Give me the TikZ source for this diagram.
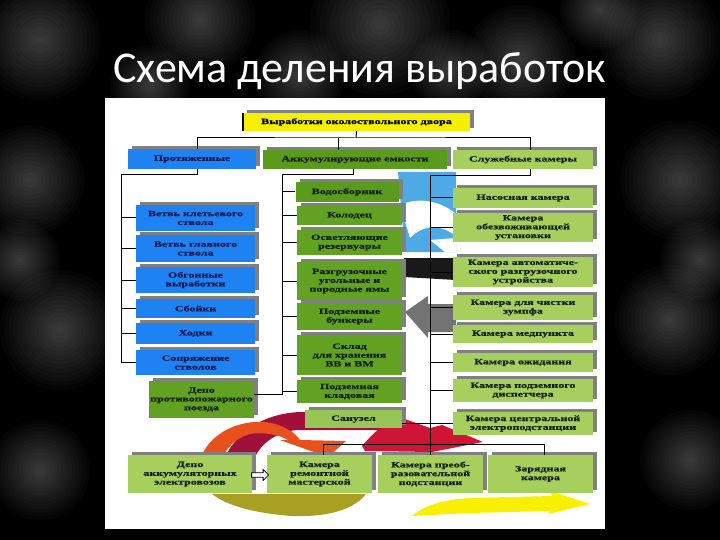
\documentclass[tikz,border=0pt]{standalone}
\usepackage{fontspec}
\setmainfont{Liberation Serif}
\newfontfamily\titlefont{Carlito}
\newfontfamily\boxfont[FakeStretch=1.5,FakeBold=1]{Liberation Serif}
\usetikzlibrary{shadows,shapes.arrows}
\definecolor{bxblue}{HTML}{1E82F2}
\definecolor{bxgreen}{HTML}{62A222}
\definecolor{bxdgreen}{HTML}{5A9A1C}
\definecolor{bxlgreen}{HTML}{A6CF5E}
\definecolor{bxsan}{HTML}{98C656}
\definecolor{bxyellow}{HTML}{F4F000}
\definecolor{shgray}{HTML}{808080}
\definecolor{txtblue}{HTML}{0A1A50}
\definecolor{txtgreen}{HTML}{142014}
\definecolor{arblue}{HTML}{4EAAE4}
\definecolor{ardred}{HTML}{A0103A}
\definecolor{arorange}{HTML}{E8501E}
\definecolor{arcrimson}{HTML}{D01434}
\definecolor{arolive}{HTML}{A8A020}
\definecolor{aryellow}{HTML}{F8F000}
\begin{document}
\begin{tikzpicture}[x=1pt,y=-1pt,
  box/.style={rectangle, inner sep=1pt, align=center,
    font=\boxfont\bfseries\fontsize{8}{8.8}\selectfont,
    general shadow={fill=shgray, shadow xshift=4pt, shadow yshift=3pt}},
  bbox/.style={box, fill=bxblue, text=txtblue},
  gbox/.style={box, fill=bxgreen, text=txtgreen},
  lbox/.style={box, fill=bxlgreen, text=txtgreen},
  conn/.style={draw=black, line width=1pt}]
\useasboundingbox (0,0) rectangle (720,540);
% background
\fill[black] (0,0) rectangle (720,540);
\foreach \x/\y/\r in {40/40/60,200/20/55,380/25/70,520/60/55,660/40/60,30/180/55,60/330/60,40/470/50,680/180/60,670/320/55,690/460/50,600/10/40,300/75/45,150/85/40,450/70/40,20/260/40,700/260/40}{
  \foreach \k in {1,...,14}{\fill[white,opacity=0.021] (\x,\y) circle ({\r*\k/14});}
}
% title
\node[anchor=base west, inner sep=0pt, text=white, font=\titlefont\fontsize{44}{50}\selectfont] (title) at (113,83) {Схема деления выработок};
% panel
\fill[white] (105,98) rectangle (605,529);
% decorative arrows
\fill[arblue] (398,172) -- (456,172) -- (456,252) -- (405,252) -- cycle;
\fill[white] (400,205) .. controls (420,196) and (442,202) .. (456,214) -- (456,236) .. controls (440,224) and (424,224) .. (410,238) -- cycle;
\fill[white] (430,240) -- (456,238) -- (456,252) -- (445,252) -- cycle;
\fill[black!90] (404,258) -- (456,258) -- (456,280) -- (404,277) -- cycle;
\fill[black!55] (456,304) -- (428,304) -- (428,296) -- (405,312) -- (428,338) -- (428,332) -- (456,332) -- cycle;
\fill[ardred] (226,455) .. controls (242,425) and (272,413) .. (300,412) -- (405,412) -- (405,430) -- (300,430) .. controls (282,430) and (264,440) .. (256,455) -- cycle;
\fill[arorange] (202,455) .. controls (212,432) and (240,420) .. (265,422) .. controls (282,424) and (295,432) .. (300,440) -- (346,441) -- (328,457) -- (280,440) -- (288,440) .. controls (278,434) and (262,432) .. (250,434) .. controls (238,437) and (228,446) .. (224,455) -- cycle;
\fill[arcrimson] (362,446) .. controls (374,432) and (386,421) .. (402,418) -- (430,428) -- (442,425) -- (483,442) -- (432,452) -- (365,451) -- cycle;
\fill[arolive] (212,494) -- (366,494) .. controls (352,512) and (322,517) .. (292,516) .. controls (252,513) and (226,505) .. (212,494) -- cycle;
\fill[aryellow] (412,516) .. controls (424,506) and (440,500) .. (470,498) -- (552,496) -- (550,491) -- (590,504) -- (548,514) -- (550,511) -- (470,513) -- cycle;
% boxes
\node[box, fill=bxyellow, text=black, minimum width=227pt, minimum height=18pt] (top) at (356.5,122) {Выработки околоствольного двора};
\draw[line width=1.5pt] (top.north west) -- (top.south west);
\node[bbox, minimum width=128pt, minimum height=20pt] (p) at (192,159) {Протяженные};
\node[box, fill=bxdgreen, text=txtgreen, minimum width=184pt, minimum height=19pt] (a) at (355,159.5) {Аккумулирующие емкости};
\node[lbox, minimum width=140pt, minimum height=19pt] (s) at (523,159.5) {Служебные камеры};
% left column
\node[bbox, minimum width=119pt, minimum height=26pt] (l1) at (195.5,218) {Ветвь клетьевого\\ствола};
\node[bbox, minimum width=119pt, minimum height=27pt] (l2) at (195.5,248.5) {Ветвь главного\\ствола};
\node[bbox, minimum width=119pt, minimum height=26pt] (l3) at (195.5,280) {Обгонные\\выработки};
\node[bbox, minimum width=119pt, minimum height=19pt] (l4) at (195.5,308.5) {Сбойки};
\node[bbox, minimum width=119pt, minimum height=21pt] (l5) at (195.5,333.5) {Ходки};
\node[bbox, minimum width=119pt, minimum height=25pt] (l6) at (195.5,362.5) {Сопряжение\\стволов};
\node[gbox, minimum width=103pt, minimum height=37pt] (l7) at (201.5,399.5) {Депо\\противопожарного\\поезда};
% middle column
\node[box, fill=bxdgreen, text=txtgreen, minimum width=103pt, minimum height=20pt] (m1) at (347,192) {Водосборник};
\node[gbox, minimum width=105pt, minimum height=19pt] (m2) at (349.5,215.5) {Колодец};
\node[gbox, minimum width=105pt, minimum height=25pt] (m3) at (349.5,242.5) {Осветляющие\\резервуары};
\node[gbox, minimum width=105pt, minimum height=38pt] (m4) at (349.5,281) {Разгрузочные\\угольные и\\породные ямы};
\node[gbox, minimum width=105pt, minimum height=27pt] (m5) at (349.5,316.5) {Подземные\\бункеры};
\node[gbox, minimum width=105pt, minimum height=40pt] (m6) at (349.5,355) {Склад\\для хранения\\ВВ и ВМ};
\node[gbox, minimum width=105pt, minimum height=23pt] (m7) at (349.5,391.5) {Подземная\\кладовая};
\node[box, fill=bxsan, text=txtgreen, minimum width=97pt, minimum height=18pt] (m8) at (353.5,419) {Санузел};
% right column
\node[lbox, minimum width=140pt, minimum height=20pt] (r1) at (523,198) {Насосная камера};
\node[lbox, minimum width=140pt, minimum height=29pt] (r2) at (523,227.5) {Камера\\обезвоживающей\\установки};
\node[lbox, minimum width=140pt, minimum height=30pt] (r3) at (523,272) {Камера автоматиче-\\ского разгрузочного\\устройства};
\node[lbox, minimum width=140pt, minimum height=25pt] (r4) at (523,307.5) {Камера для чистки\\зумпфа};
\node[lbox, minimum width=140pt, minimum height=18pt] (r5) at (523,334) {Камера медпункта};
\node[lbox, minimum width=140pt, minimum height=19pt] (r6) at (523,362.5) {Камера ожидания};
\node[lbox, minimum width=140pt, minimum height=23pt] (r7) at (523,390.5) {Камера подземного\\диспетчера};
\node[lbox, minimum width=140pt, minimum height=23pt] (r8) at (523,423.5) {Камера центральной\\электроподстанции};
% bottom row
\node[lbox, minimum width=124pt, minimum height=38pt] (b1) at (190,474) {Депо\\аккумуляторных\\электровозов};
\node[lbox, minimum width=105pt, minimum height=38pt] (b2) at (319.5,474) {Камера\\ремонтной\\мастерской};
\node[lbox, minimum width=105pt, minimum height=38pt] (b3) at (430.5,474) {Камера преоб-\\разовательной\\подстанции};
\node[lbox, minimum width=105pt, minimum height=38pt] (b4) at (540.5,474) {Зарядная\\камера};
\node[single arrow, draw=black, fill=white, line width=0.8pt, minimum height=17pt, minimum width=11pt, single arrow head extend=2pt, inner sep=1pt] (wa) at (259,475) {};
% connectors
\coordinate (tb) at (356,138);
\draw[conn] (top.south) -- (tb);
\draw[conn] ([xshift=5pt]p.north) |- (tb) -| ([xshift=7pt]s.north);
\draw[conn] ([xshift=-17pt]a.north) -- ([xshift=-17pt]a.north |- tb);
\coordinate (lv) at (121,175);
\draw[conn] ([xshift=5pt]p.south) |- (lv) -- (lv |- l6.west);
\foreach \n in {l1,l2,l3,l4,l5,l6}{\draw[conn] (\n.west) -- (\n.west -| lv);}
\coordinate (mv) at (282,175);
\coordinate (l7t) at ([yshift=5pt]l7.east);
\draw[conn] ([xshift=-2pt]a.south) |- (mv) -- (mv |- l7t) -- (l7t);
\foreach \n in {m1,m2,m3,m4,m5,m6,m7}{\draw[conn] (\n.west) -- (\n.west -| mv);}
\coordinate (rv) at (430,176);
\draw[conn] ([xshift=7pt]s.south) |- (rv) -- (rv |- b3.north);
\foreach \n in {r1,r2,r3,r4,r5,r6,r7,r8}{\draw[conn] (\n.west) -- (\n.west -| rv);}
\draw[conn] (r8.west -| m8.east) -- (r8.west);
\draw[conn] ([xshift=3.5pt]b2.north) -- ++(0,-10) -| ([xshift=3.5pt]b4.north);
\end{tikzpicture}
\end{document}
